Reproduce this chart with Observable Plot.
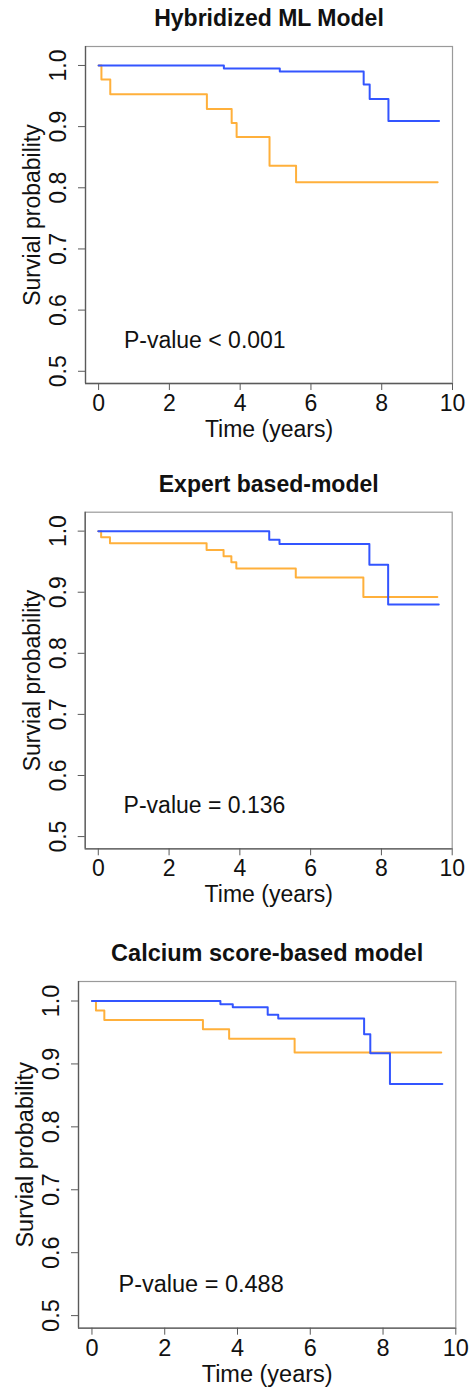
<!DOCTYPE html>
<html>
<head>
<meta charset="utf-8">
<script src="https://cdn.jsdelivr.net/npm/d3@7"></script>
<script src="https://cdn.jsdelivr.net/npm/@observablehq/plot@0.6"></script>
<style>
  html, body { margin: 0; padding: 0; background: #fff; }
  #wrap { position: relative; width: 470px; height: 1388px; overflow: hidden; }
  .panel { position: absolute; left: 0; }
</style>
</head>
<body>
<div id="wrap"></div>
<script>
// ---- Data ----
const titles = ["Hybridized ML Model", "Expert based-model", "Calcium score-based model"];
const pLabels = ["P-value < 0.001", "P-value = 0.136", "P-value = 0.488"];
const xTicks = [0, 2, 4, 6, 8, 10];
const yTicks = [0.5, 0.6, 0.7, 0.8, 0.9, 1.0];
const xTitle = "Time (years)";
const yTitle = "Survial probability";

// Hybridized ML Model
const hybBlueT   = [0, 3.54, 5.12, 7.49, 7.66, 8.19, 9.62];
const hybBlueS   = [1.0, 0.995, 0.990, 0.969, 0.945, 0.909, 0.909];
const hybOrangeT = [0, 0.08, 0.33, 3.06, 3.76, 3.90, 4.83, 5.58, 9.58];
const hybOrangeS = [1.0, 0.977, 0.953, 0.929, 0.906, 0.883, 0.836, 0.809, 0.809];

// Expert based-model
const expBlueT   = [0, 4.83, 5.12, 7.66, 8.19, 9.62];
const expBlueS   = [1.0, 0.986, 0.979, 0.945, 0.880, 0.880];
const expOrangeT = [0, 0.08, 0.33, 3.06, 3.54, 3.76, 3.90, 5.58, 7.49, 9.58];
const expOrangeS = [1.0, 0.990, 0.980, 0.969, 0.959, 0.949, 0.939, 0.924, 0.892, 0.892];

// Calcium score-based model
const calBlueT   = [0, 3.53, 3.87, 4.83, 5.12, 7.48, 7.65, 8.19, 9.63];
const calBlueS   = [1.0, 0.995, 0.990, 0.978, 0.972, 0.947, 0.917, 0.868, 0.868];
const calOrangeT = [0, 0.11, 0.34, 3.05, 3.77, 5.57, 9.60];
const calOrangeS = [1.0, 0.985, 0.970, 0.955, 0.940, 0.918, 0.918];

const pPos = {x: 3, y: 0.55};

// ---- Layout / style ----
const colBlue = "#3355ff";
const colOrange = "#ffb03b";
const font = "'Liberation Sans', Arial, Helvetica, sans-serif";
const xDomain = [-0.37, 10.0];
const yDomain = [0.48, 1.031];

const panels = [
  {top: 0,   height: 455, mt: 46, mb: 72,   ml: 85, mr: 18,   fs: 23,   blue: [hybBlueT, hybBlueS], orange: [hybOrangeT, hybOrangeS]},
  {top: 460, height: 460, mt: 51.7, mb: 71.7, ml: 84.7, mr: 18.3, fs: 23, blue: [expBlueT, expBlueS], orange: [expOrangeT, expOrangeS]},
  {top: 920, height: 468, mt: 61, mb: 60.3, ml: 78, mr: 14.7, fs: 23.5, blue: [calBlueT, calBlueS], orange: [calOrangeT, calOrangeS]}
];

const toRows = ([t, s]) => t.map((d, i) => ({t: d, s: s[i]}));
const wrap = document.getElementById("wrap");

panels.forEach((p, k) => {
  const blue = toRows(p.blue);
  const orange = toRows(p.orange);
  const chart = Plot.plot({
    width: 470,
    height: p.height,
    marginTop: p.mt,
    marginBottom: p.mb,
    marginLeft: p.ml,
    marginRight: p.mr,
    style: {fontFamily: font, color: "#111", background: "#fff", overflow: "visible"},
    x: {domain: xDomain},
    y: {domain: yDomain},
    marks: [
      Plot.frame({stroke: "#9a9a9a", strokeWidth: 1.2}),
      Plot.ruleX([xDomain[0]], {stroke: "#5a5a5a", strokeWidth: 1.3}),
      Plot.ruleY([yDomain[0]], {stroke: "#5a5a5a", strokeWidth: 1.3}),
      Plot.axisX({ticks: xTicks, tickSize: 7, tickPadding: 4, fontSize: p.fs, stroke: "#5a5a5a", label: null, fill: "#111"}),
      Plot.axisY({ticks: yTicks, tickSize: 7, tickFormat: () => "", stroke: "#5a5a5a", label: null}),
      Plot.text(yTicks, {y: d => d, text: d => d3.format(".1f")(d), frameAnchor: "left", textAnchor: "middle", lineAnchor: "middle", dx: -27, rotate: -90, fontSize: p.fs, fill: "#111"}),
      Plot.text([yTitle], {frameAnchor: "left", textAnchor: "middle", lineAnchor: "middle", dx: -53, rotate: -90, fontSize: p.fs, fill: "#111"}),
      Plot.text([xTitle], {frameAnchor: "bottom", textAnchor: "middle", lineAnchor: "middle", dy: 46, fontSize: p.fs, fill: "#111"}),
      Plot.text([titles[k]], {frameAnchor: "top", textAnchor: "middle", lineAnchor: "middle", dy: -28, fontSize: p.fs, fontWeight: "bold", fill: "#111"}),
      Plot.text([pLabels[k]], {x: () => pPos.x, y: () => pPos.y, fontSize: p.fs, fill: "#111"}),
      Plot.line(orange, {x: "t", y: "s", curve: "step-after", stroke: colOrange, strokeWidth: 2}),
      Plot.line(blue, {x: "t", y: "s", curve: "step-after", stroke: colBlue, strokeWidth: 2})
    ]
  });
  const div = document.createElement("div");
  div.className = "panel";
  div.style.top = p.top + "px";
  div.appendChild(chart);
  wrap.appendChild(div);
});
</script>
</body>
</html>
